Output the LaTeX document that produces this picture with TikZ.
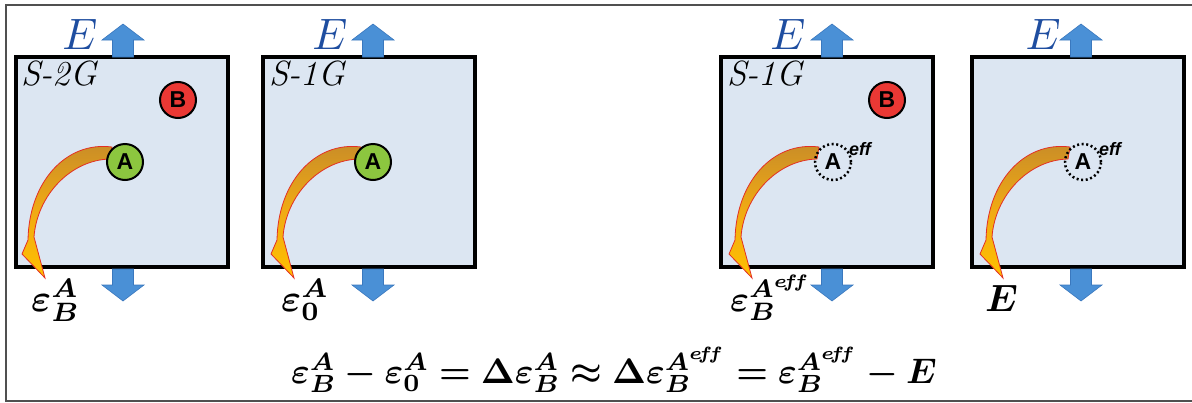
\documentclass[tikz,border=0pt]{standalone}
\usepackage{amsmath}
\usepackage{graphicx}
\usepackage{bm}
\usepackage{fontspec}
\newfontfamily\arialf{Liberation Sans}
\definecolor{boxfill}{RGB}{220,230,242}
\definecolor{arrblue}{RGB}{74,144,214}
\definecolor{arrblueedge}{RGB}{58,120,190}
\definecolor{Eblue}{RGB}{31,78,160}
\definecolor{Bred}{RGB}{234,56,52}
\definecolor{Agreen}{RGB}{140,198,63}
\definecolor{curvetop}{RGB}{200,140,40}
\definecolor{curvemid}{RGB}{240,170,20}
\definecolor{curvebot}{RGB}{255,192,0}
\definecolor{curveedge}{RGB}{226,48,36}
\definecolor{framegray}{RGB}{80,80,80}
\newcommand{\beps}{\bm{\varepsilon}}
\newcommand{\bA}{\bm{A}}
\newcommand{\bB}{\bm{B}}
\newcommand{\bE}{\bm{E}}
\newcommand{\Aeff}{\bm{A^{e\!f\!f}}}
\newcommand{\scmath}[2]{\scalebox{#1}{$#2$}}
\begin{document}
\begin{tikzpicture}[x=1pt,y=-1pt,
  cell/.style={draw=black,line width=4pt,fill=boxfill,minimum width=212pt,minimum height=210pt,inner sep=0pt},
  blockarr/.style={fill=arrblue,draw=arrblueedge,line width=0.6pt},
  Elabel/.style={text=Eblue,font=\fontsize{10}{12}\selectfont,inner sep=0pt},
  glabel/.style={font=\fontsize{35}{35}\selectfont\itshape,inner sep=0pt,anchor=base west},
  ballB/.style={circle,draw=black,line width=2pt,fill=Bred,minimum size=36pt,inner sep=0pt,font=\arialf\bfseries\fontsize{23}{23}\selectfont},
  ballA/.style={circle,draw=black,line width=2pt,fill=Agreen,minimum size=36pt,inner sep=0pt,font=\arialf\bfseries\fontsize{23}{23}\selectfont},
  ballAeff/.style={circle,draw=black,line width=2.5pt,dash pattern=on 2pt off 2.6pt,minimum size=36pt,inner sep=0pt,font=\arialf\bfseries\fontsize{23}{23}\selectfont},
  effsup/.style={font=\arialf\bfseries\itshape\fontsize{18}{18}\selectfont,inner sep=0pt},
  curvearr/.style={top color=curvetop,bottom color=curvebot,middle color=curvemid,draw=curveedge,line width=0.8pt,line join=miter},
  botlabel/.style={font=\fontsize{10}{12}\selectfont,inner sep=0pt,anchor=base west},
  frameline/.style={draw=framegray,line width=1.5pt}
]
\useasboundingbox (0,0) rectangle (1192,402);
\draw[frameline] (1192,5) -- (6,5) -- (6,401) -- (1192,401);

% boxes
\node[cell] (c1) at (121.5,162) {};
\node[cell] (c2) at (369,162) {};
\node[cell] (c3) at (827,162) {};
\node[cell] (c4) at (1078,162) {};

% up and down block arrows, E labels
\foreach \cx/\ex/\n in {123/80/1,373/330/2,832/788/3,1081/1043/4}{
  \draw[blockarr] (\cx-10.5,57) -- (\cx-10.5,40) -- (\cx-21,40) -- (\cx,24) -- (\cx+21,40) -- (\cx+10.5,40) -- (\cx+10.5,57) -- cycle;
  \draw[blockarr] (\cx-10.5,269) -- (\cx-10.5,285) -- (\cx-21,285) -- (\cx,301) -- (\cx+21,285) -- (\cx+10.5,285) -- (\cx+10.5,269) -- cycle;
  \node[Elabel] (E\n) at (\ex,34) {\scmath{4.4}{E}};
}

% group labels
\node[glabel] (g1) at (21,85) {S-2G};
\node[glabel] (g2) at (269,85) {S-1G};
\node[glabel] (g3) at (727,85) {S-1G};

% curved arrows
\foreach \dx in {0,249,707,958}{
  \begin{scope}[xshift=\dx]
  \draw[curvearr] (112,147) .. controls (66,141) and (29,182) .. (28,240) -- (22,254) -- (45,278) -- (34,237) .. controls (37,196) and (70,160) .. (110,159) -- cycle;
  \end{scope}
}

% balls
\node[ballB] (B1) at (178,100) {B};
\node[ballB] (B3) at (887,100) {B};
\node[ballA] (A1) at (125,162) {A};
\node[ballA] (A2) at (373,162) {A};
\node[ballAeff] (A3) at (833,162) {A};
\node[effsup] (e3) at (860,149) {eff};
\node[ballAeff] (A4) at (1083,162) {A};
\node[effsup] (e4) at (1110,149) {eff};

% labels below boxes
\node[botlabel] (L1) at (31,311) {\scmath{3.8}{\beps_{\bB}^{\bA}}};
\node[botlabel] (L2) at (281,311) {\scmath{3.8}{\beps_{\bm{0}}^{\bA}}};
\node[botlabel] (L3) at (730,311) {\scmath{3.6}{\beps_{\bB}^{\Aeff}}};
\node[botlabel] (L4) at (985,311) {\scmath{3.8}{\bE}};

% equation
\node[font=\fontsize{10}{12}\selectfont,inner sep=0pt,anchor=base] (eq) at (614,383)
  {\scmath{3.55}{\beps_{\bB}^{\bA}\bm{-}\beps_{\bm{0}}^{\bA}\bm{=}\bm{\Delta}\beps_{\bB}^{\bA}\bm{\approx}\bm{\Delta}\beps_{\bB}^{\Aeff}\bm{=}\beps_{\bB}^{\Aeff}\bm{-}\bE}};
\end{tikzpicture}
\end{document}
